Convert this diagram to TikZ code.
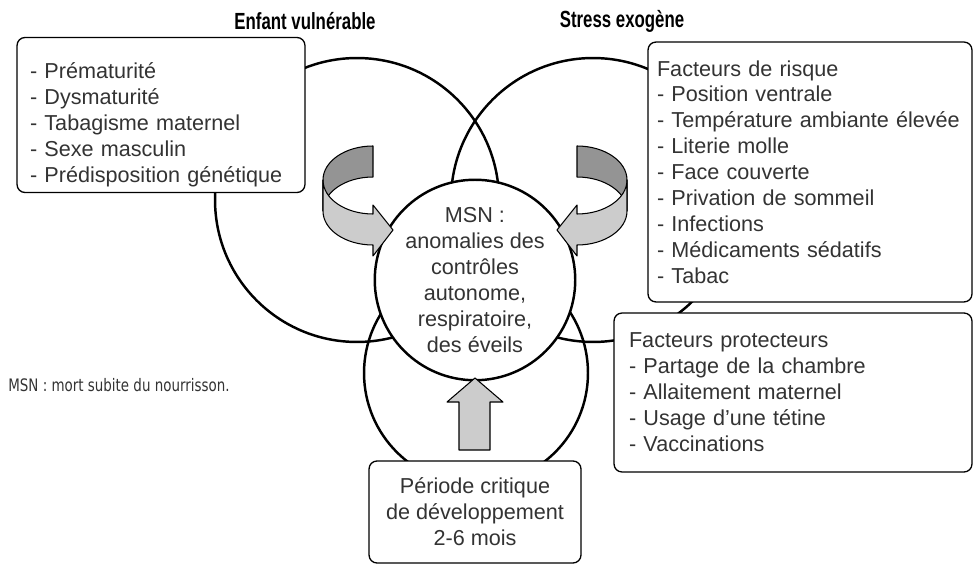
\documentclass[tikz,border=0pt]{standalone}
\usepackage{fontspec}
\setmainfont{Liberation Sans}
\newfontfamily\titlefont[FakeStretch=0.72]{Liberation Sans}
\newfontfamily\notefont[FakeStretch=0.78]{DejaVu Sans}

\tikzset{
  encadre/.style={draw, fill=white, rounded corners=0.16cm, line width=0.75pt, text=black!80},
  cercle/.style={line width=1.4pt},
  bandesombre/.style={draw, fill=black!42, line width=0.6pt, line join=round},
  bandeclaire/.style={draw, fill=black!20, line width=0.6pt, line join=round}
}

\begin{document}
\begin{tikzpicture}[x=0.02cm, y=0.02cm, font=\fontsize{12.3}{14.75}\selectfont]
\useasboundingbox (0,0) rectangle (973,565);

% les trois grands cercles
\draw[cercle] (357,365) circle[radius=2.84cm];
\draw[cercle] (593,365) circle[radius=2.84cm];
\draw[cercle] (476,192) circle[radius=2.24cm];

% cercle central
\node[cercle, draw, fill=white, circle, minimum size=3.72cm, inner sep=0pt, align=center, text=black!80] (msn) at (475,285)
 {MSN :\\anomalies des\\contr\^oles\\autonome,\\respiratoire,\\des \'eveils};

% encadres
\node[encadre, text width=5.24cm, inner xsep=0.26cm, minimum height=2.92cm, align=left] (vulnerable) at (161,450)
 {\rule{0pt}{20pt}- Pr\'ematurit\'e\\- Dysmaturit\'e\\- Tabagisme maternel\\- Sexe masculin\\- Pr\'edisposition g\'en\'etique};
\node[encadre, text width=6.12cm, inner xsep=0.18cm, minimum height=5.2cm, align=left] (risque) at (810,393)
 {Facteurs de risque\\- Position ventrale\\- Temp\'erature ambiante \'elev\'ee\\- Literie molle\\- Face couverte\\- Privation de sommeil\\- Infections\\- M\'edicaments s\'edatifs\\- Tabac};
\node[encadre, text width=6.56cm, inner xsep=0.3cm, minimum height=3.18cm, align=left] (protecteurs) at (793,172.5)
 {Facteurs protecteurs\\- Partage de la chambre\\- Allaitement maternel\\- Usage d’une t\'etine\\- Vaccinations};
\node[encadre, minimum width=4.24cm, minimum height=2.04cm, align=center] (periode) at (475,53)
 {P\'eriode critique\\de d\'eveloppement\\2-6 mois};

% titres et note
\node[font=\titlefont\bfseries\fontsize{13.3}{15}\selectfont] (tenfant) at (305,544) {Enfant vuln\'erable};
\node[font=\titlefont\bfseries\fontsize{13.3}{15}\selectfont] (tstress) at (622,544) {Stress exog\`ene};
\node[anchor=west, inner sep=0pt, font=\notefont\fontsize{9.8}{11}\selectfont, text=black!80] (note) at (8,180)
 {MSN : mort subite du nourrisson.};

% ruban de gauche
\begin{scope}
 \draw[bandesombre] (373,419) arc[start angle=90, end angle=180, x radius=1cm, y radius=0.68cm]
   -- (323,354) arc[start angle=180, end angle=90, x radius=1cm, y radius=0.68cm] -- cycle;
 \draw[bandeclaire] (323,385) arc[start angle=180, end angle=270, x radius=1cm, y radius=0.68cm]
   -- (373,360) -- (393,335) -- (373,309) -- (373,320)
   arc[start angle=270, end angle=180, x radius=1cm, y radius=0.68cm] -- cycle;
\end{scope}

% ruban de droite
\begin{scope}[shift={(950,0)}, xscale=-1]
 \draw[bandesombre] (373,419) arc[start angle=90, end angle=180, x radius=1cm, y radius=0.68cm]
   -- (323,354) arc[start angle=180, end angle=90, x radius=1cm, y radius=0.68cm] -- cycle;
 \draw[bandeclaire] (323,385) arc[start angle=180, end angle=270, x radius=1cm, y radius=0.68cm]
   -- (373,360) -- (393,335) -- (373,309) -- (373,320)
   arc[start angle=270, end angle=180, x radius=1cm, y radius=0.68cm] -- cycle;
\end{scope}

% fleche du bas
\draw[bandeclaire] (459,115) -- (459,163) -- (447,163) -- (475,187) -- (503,163) -- (490,163) -- (490,115) -- cycle;

\end{tikzpicture}
\end{document}
